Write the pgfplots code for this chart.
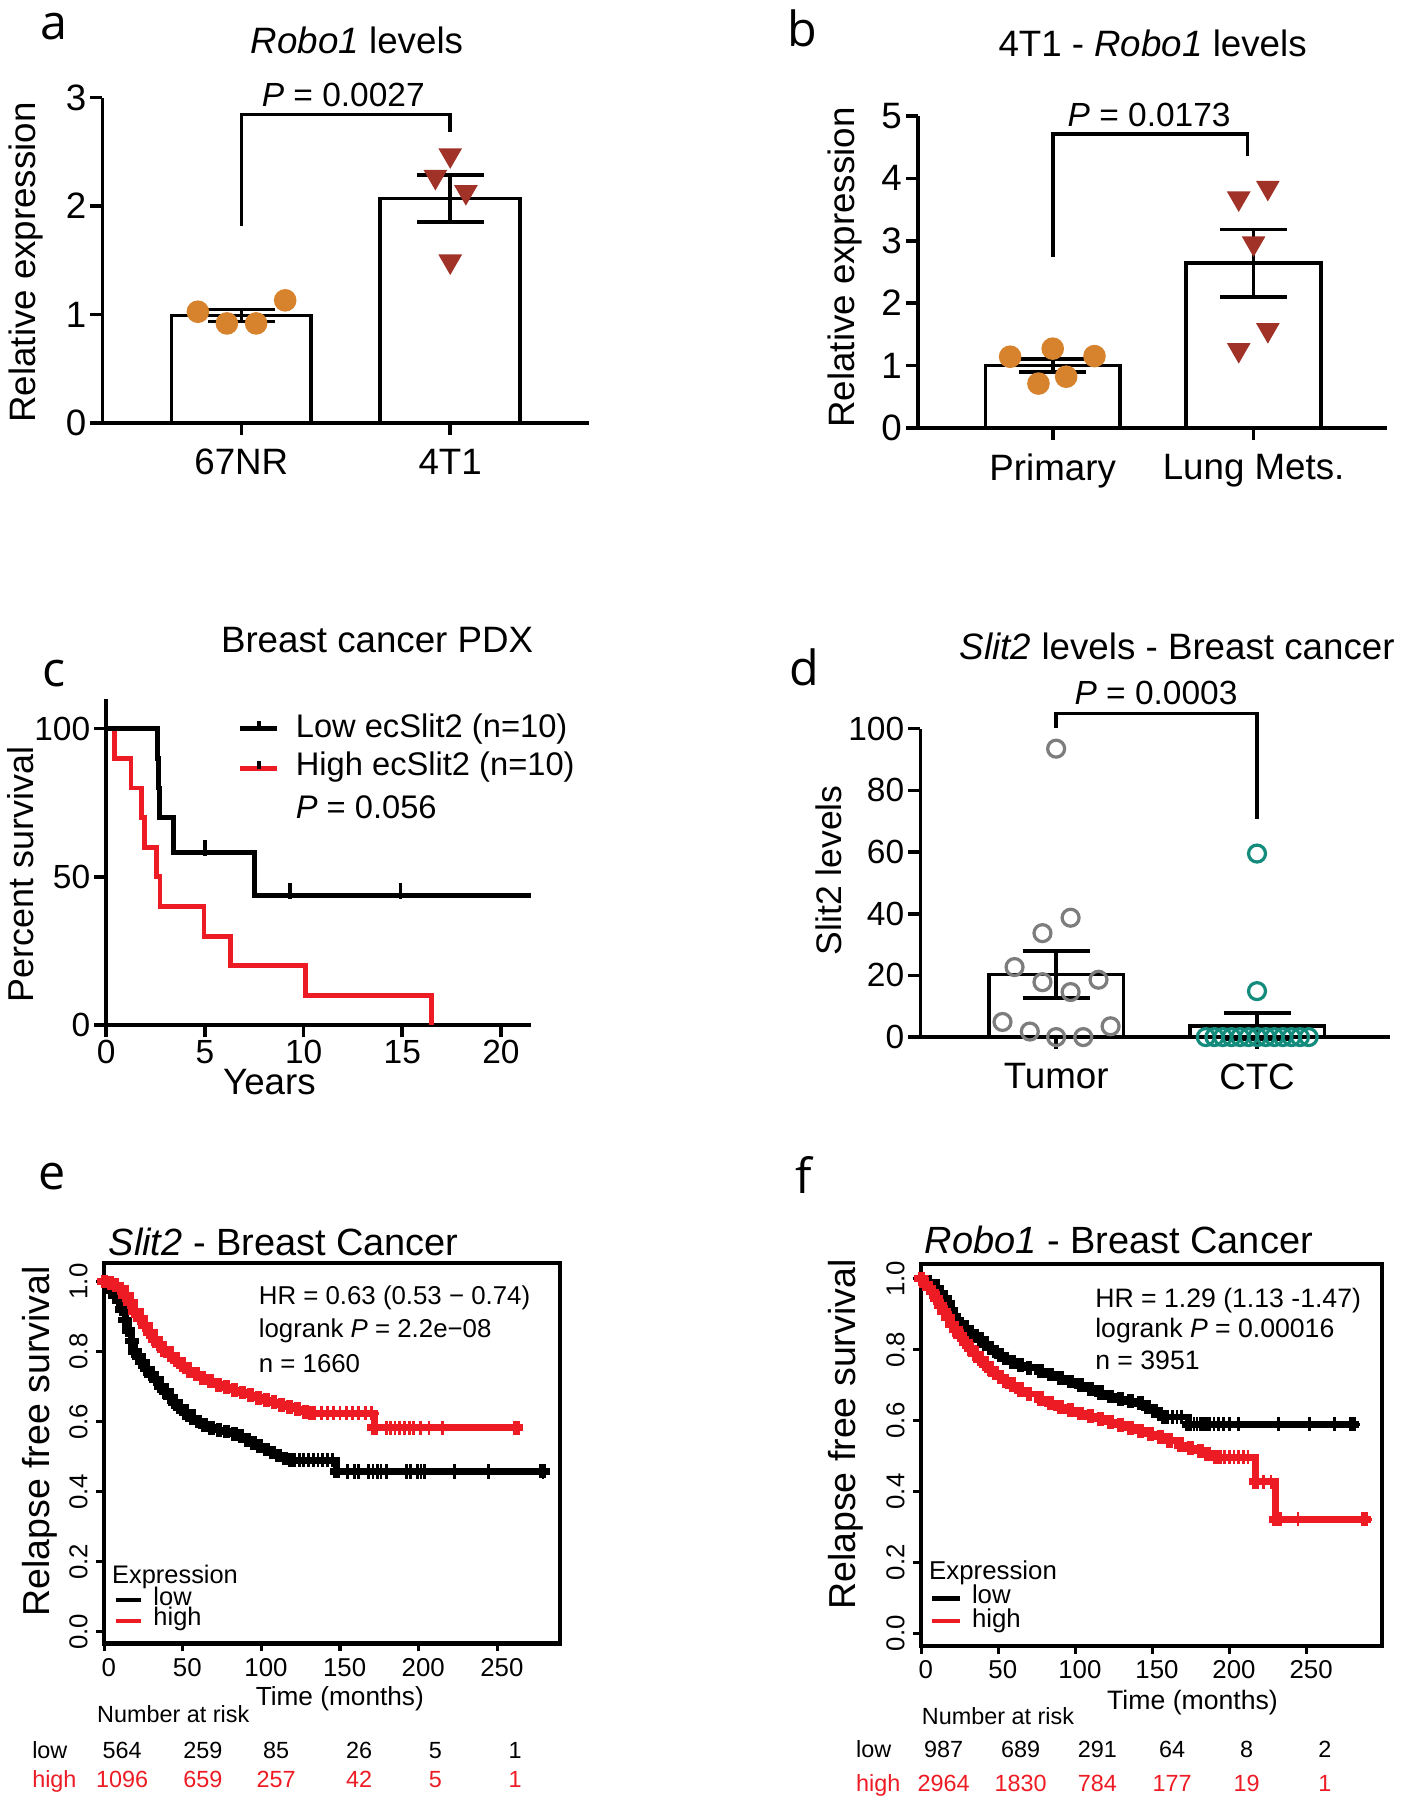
\documentclass[border=0pt]{standalone}
\usepackage{pgfplots}
\pgfplotsset{compat=1.18}
\usepackage{fontspec}
\setmainfont{Liberation Sans}
\newfontfamily\lblfont{Open Sans}
\definecolor{orangept}{RGB}{215,130,45}
\definecolor{redtri}{RGB}{160,50,40}
\definecolor{kmred}{RGB}{237,28,36}
\definecolor{tealc}{RGB}{20,140,125}
\definecolor{grayc}{RGB}{125,125,125}
\newcommand{\fs}[1]{\fontsize{#1}{#1}\selectfont}
\pgfplotsset{
  gp/.style={scale only axis, axis lines=left, axis line style={-, line width=0.9pt},
    tick align=outside, major tick length=3pt, tick style={line width=0.9pt, black},
    /pgf/number format/assume math mode=true, clip=false,
    yticklabel style={inner sep=0.8pt}},
  km/.style={scale only axis, axis line style={line width=1.1pt}, tick align=outside,
    tick pos=left, major tick length=1.9pt, tick style={line width=0.8pt, black},
    /pgf/number format/assume math mode=true, tick label style={font=\fs{6.4}},
    xtick={0,50,100,150,200,250}, ytick={0,0.2,0.4,0.6,0.8,1},
    yticklabel style={rotate=90, anchor=south, inner sep=2pt, /pgf/number format/.cd, fixed, fixed zerofill, precision=1},
    xticklabel style={inner sep=1.5pt, xshift=0.4mm}},
  barst/.style={ybar, bar width=0.67, fill=white, draw=black, line width=0.9pt,
    error bars/.cd, y dir=both, y explicit,
    error bar style={line width=0.9pt, draw=black},
    error mark options={rotate=90, mark size=8.3pt, line width=0.9pt, draw=black}},
}
\begin{document}
\begin{tikzpicture}
\begin{scope}[x=0.1mm,y=-0.1mm]
\coordinate (Ao) at (89.2,368.3);
\coordinate (Bo) at (799.6,372.7);
\coordinate (Co) at (92.6,893);
\coordinate (Do) at (801.7,903.4);
\coordinate (Eo) at (90.7,1431.8);
\coordinate (Fo) at (802.4,1434);
\end{scope}

% ---------------- panel a
\begin{axis}[gp, at={(Ao)}, anchor=south west, width=42.4mm, height=28.32mm,
  xmin=-0.665, xmax=1.665, ymin=0, ymax=3, xtick={0,1}, xticklabels={67NR,4T1},
  ytick={0,1,2,3}, tick label style={font=\fs{9.1}}]
\addplot[barst] coordinates {(0,0.99) +- (0,0.055) (1,2.07) +- (0,0.215)};
\addplot[only marks, mark=*, mark size=2.6pt, mark options={fill=orangept, draw=orangept}]
  coordinates {(-0.208,1.025) (-0.069,0.917) (0.071,0.917) (0.21,1.13)};
\addplot[only marks, mark=triangle*, mark size=3pt, mark options={rotate=180, fill=redtri, draw=redtri}]
  coordinates {(1,2.47) (0.929,2.27) (1.075,2.13) (1,1.49)};
\addplot[black, line width=0.9pt] coordinates {(0,1.82) (0,2.846) (1,2.846) (1,2.685)};
\end{axis}

% ---------------- panel b
\begin{axis}[gp, at={(Bo)}, anchor=south west, width=40.84mm, height=27.17mm,
  xmin=-0.671, xmax=1.663, ymin=0, ymax=5, xtick={0,1}, xticklabels={Primary,Lung Mets.},
  ytick={0,1,2,3,4,5}, tick label style={font=\fs{9.1}}]
\addplot[barst] coordinates {(0,1.0) +- (0,0.105) (1,2.64) +- (0,0.54)};
\addplot[only marks, mark=*, mark size=2.6pt, mark options={fill=orangept, draw=orangept}]
  coordinates {(-0.212,1.14) (-0.071,0.71) (0,1.27) (0.067,0.82) (0.208,1.15)};
\addplot[only marks, mark=triangle*, mark size=3pt, mark options={rotate=180, fill=redtri, draw=redtri}]
  coordinates {(0.926,3.68) (1.071,3.85) (1,2.96) (1.071,1.57) (0.926,1.25)};
\addplot[black, line width=0.9pt] coordinates {(0,2.74) (0,4.71) (0.97,4.71) (0.97,4.36)};
\end{axis}

% ---------------- panel c
\begin{axis}[gp, at={(Co)}, anchor=south west, width=36.99mm, height=28.41mm,
  xmin=0, xmax=21.52, ymin=0, ymax=110, xtick={0,5,10,15,20}, ytick={0,50,100},
  tick label style={font=\fs{8.3}}, xticklabel style={inner sep=0.6pt}]
\addplot[const plot, kmred, line width=1.2pt] coordinates {(0,100) (0.4,90) (1.25,80) (1.8,70) (1.95,60) (2.55,50) (2.72,40) (4.95,30) (6.3,20) (10.1,10) (16.5,0)};
\addplot[const plot, black, line width=1.2pt] coordinates {(0,100) (2.6,90) (2.65,80) (2.7,70) (3.4,58.33) (7.5,43.75) (21.5,43.75)};
\addplot[only marks, mark=|, mark size=2pt, black, mark options={line width=0.9pt}] coordinates {(5,59.8) (9.3,45.2) (14.9,45.2)};
\end{axis}

% ---------------- panel d
\begin{axis}[gp, at={(Do)}, anchor=south west, width=40.93mm, height=26.87mm,
  xmin=-0.676, xmax=1.663, ymin=0, ymax=100, xtick={0,1}, xticklabels={Tumor,CTC},
  ytick={0,20,40,60,80,100}, yticklabel style={font=\fs{8.3}}, xticklabel style={font=\fs{9.1}}]
\addplot[barst] coordinates {(0,20.3) +- (0,7.6) (1,3.6) +- (0,4.3)};
\addplot[only marks, mark=o, mark size=2.1pt, grayc, mark options={line width=0.8pt}]
  coordinates {(0,93.5) (0.072,38.7) (-0.068,33.7) (-0.207,22.7) (-0.068,17.8) (0.211,18.6) (0.072,14.6) (-0.267,4.9) (0.271,3.5) (-0.131,1.8) (0,0) (0.135,0)};
\addplot[only marks, mark=o, mark size=2.1pt, tealc, mark options={line width=0.8pt}]
  coordinates {(1,59.5) (1,14.9) (0.745,0) (0.788,0) (0.830,0) (0.873,0) (0.916,0) (0.958,0) (1.001,0) (1.044,0) (1.086,0) (1.129,0) (1.172,0) (1.214,0) (1.257,0)};
\addplot[black, line width=0.9pt] coordinates {(0,100.2) (0,104.9) (1,104.9) (1,70.6)};
\end{axis}

% ---------------- panel e
\begin{axis}[km, at={(Eo)}, anchor=south west, width=39.73mm, height=33.14mm,
  xmin=0, xmax=290, ymin=-0.034, ymax=1.052]
\addplot[const plot, black, line width=1.7pt, mark=+, mark size=1.7pt] coordinates {(0,1.0) (3,0.99) (5,0.975) (7,0.96) (9.5,0.945) (11.5,0.92) (13.5,0.89) (15.5,0.86) (17.5,0.83) (19.5,0.80) (22,0.785) (24,0.77) (27,0.75) (30,0.735) (33,0.72) (36,0.70) (39,0.685) (42,0.67) (45,0.655) (48,0.64) (52,0.625) (56,0.61) (60,0.60) (64,0.59) (68.5,0.582) (73,0.576) (78,0.572) (83,0.565) (87,0.558) (91,0.548) (95,0.538) (99,0.53) (103,0.52) (107,0.512) (111,0.503) (115,0.495) (119,0.49) (148,0.458) (279,0.458)};
\addplot[only marks, mark=+, mark size=1.8pt, black, mark options={line width=0.7pt}] coordinates {(121,0.49) (124,0.49) (127,0.49) (130,0.49) (133,0.49) (136,0.49) (139,0.49) (142,0.49) (145,0.49) (155,0.458) (159.4,0.458) (162,0.458) (168,0.458) (171,0.458) (173.7,0.458) (176,0.458) (179.4,0.458) (192.3,0.458) (195,0.458) (199.4,0.458) (201.5,0.458) (203.7,0.458) (223,0.458) (244.6,0.458) (279,0.458)};
\addplot[const plot, kmred, line width=1.7pt, mark=+, mark size=1.7pt] coordinates {(0,1.0) (4,0.995) (7.5,0.99) (10.5,0.98) (13.5,0.96) (16.5,0.94) (19.5,0.915) (23,0.895) (26,0.875) (29,0.855) (32,0.835) (35,0.82) (38,0.805) (42,0.79) (46,0.775) (50,0.76) (54,0.745) (58.5,0.735) (62.5,0.725) (67.5,0.715) (72.5,0.705) (78,0.698) (83,0.69) (88,0.683) (93,0.676) (98,0.668) (103,0.661) (108,0.655) (113,0.648) (118,0.642) (123,0.636) (128,0.628) (132,0.624) (171.7,0.582) (262,0.582)};
\addplot[only marks, mark=+, mark size=1.8pt, kmred, mark options={line width=0.7pt}] coordinates {(134,0.624) (138,0.624) (142,0.624) (146,0.624) (150,0.624) (154,0.624) (158,0.624) (162,0.624) (166,0.624) (170,0.624) (179.4,0.582) (182,0.582) (185,0.582) (188,0.582) (191,0.582) (194.3,0.582) (196.6,0.582) (201,0.582) (206.6,0.582) (215,0.582) (261.7,0.582)};
\end{axis}

% ---------------- panel f
\begin{axis}[km, at={(Fo)}, anchor=south west, width=40.12mm, height=33.3mm,
  xmin=0, xmax=298.8, ymin=-0.0366, ymax=1.042]
\addplot[const plot, black, line width=1.7pt, mark=+, mark size=1.7pt] coordinates {(0,1.0) (5,0.99) (9.9,0.974) (12.5,0.96) (15,0.945) (17.7,0.93) (19.5,0.91) (21.5,0.895) (23.5,0.88) (25.4,0.873) (29,0.86) (32,0.85) (35,0.84) (38.4,0.829) (42,0.815) (45,0.805) (48,0.795) (51.4,0.784) (55,0.775) (59,0.766) (64.4,0.756) (70,0.749) (77.4,0.739) (84,0.73) (90.3,0.72) (97,0.71) (103.3,0.70) (110,0.69) (116.3,0.677) (123,0.668) (129.3,0.66) (136,0.655) (142.3,0.649) (147,0.638) (151.3,0.627) (155,0.618) (157.8,0.61) (173.4,0.59) (279.9,0.59)};
\addplot[only marks, mark=+, mark size=1.8pt, black, mark options={line width=0.7pt}] coordinates {(160,0.61) (163,0.61) (166,0.61) (169,0.61) (175,0.59) (177,0.59) (179,0.59) (181,0.59) (183,0.59) (185,0.59) (187,0.59) (190,0.59) (193,0.59) (196,0.59) (200,0.59) (206,0.59) (232,0.59) (251.8,0.59) (268,0.59) (279.9,0.59)};
\addplot[const plot, kmred, line width=1.7pt, mark=+, mark size=1.7pt] coordinates {(0,1.0) (3,0.985) (7.3,0.963) (10,0.945) (12.5,0.925) (15,0.907) (17.5,0.89) (20,0.872) (22.5,0.856) (25.4,0.84) (29,0.82) (32,0.803) (35,0.788) (38.4,0.773) (42,0.758) (45,0.745) (48,0.733) (51.4,0.723) (55,0.712) (59,0.70) (64.4,0.686) (70,0.675) (77.4,0.66) (84,0.648) (90.3,0.638) (97,0.629) (103.3,0.62) (110,0.612) (116.3,0.605) (123,0.596) (129.3,0.588) (136,0.58) (142.3,0.571) (149,0.562) (155.2,0.554) (161,0.543) (168.2,0.53) (175,0.522) (181.2,0.515) (186,0.506) (191.6,0.497) (217,0.427) (230,0.322) (287.6,0.322)};
\addplot[only marks, mark=+, mark size=1.8pt, kmred, mark options={line width=0.7pt}] coordinates {(194,0.497) (197,0.497) (200,0.497) (203,0.497) (206,0.497) (209,0.497) (212,0.497) (222,0.427) (227,0.427) (233,0.322) (244.5,0.322) (287.6,0.322)};
\end{axis}

\begin{scope}[x=0.1mm,y=-0.1mm, every node/.style={inner sep=0pt}]
% panel letters
\node[font=\lblfont\fs{12}, anchor=base] at (47,34) {a};
\node[font=\lblfont\fs{12}, anchor=base] at (699,40.7) {b};
\node[font=\lblfont\fs{12}, anchor=base] at (47,598.4) {c};
\node[font=\lblfont\fs{12}, anchor=base] at (700.6,597) {d};
\node[font=\lblfont\fs{12}, anchor=base] at (45,1036) {e};
\node[font=\lblfont\fs{12}, anchor=base] at (700,1040) {f};
% a
\node[font=\fs{9.1}, anchor=base] at (310.9,47) {\textit{Robo1} levels};
\node[font=\fs{8.3}, anchor=base] at (299,93) {\textit{P} = 0.0027};
\node[font=\fs{9.1}, anchor=base, rotate=90] at (31,228.6) {Relative expression};
% b
\node[font=\fs{9.1}, anchor=base] at (1004,48.8) {4T1 - \textit{Robo1} levels};
\node[font=\fs{8.3}, anchor=base] at (1001,110.4) {\textit{P} = 0.0173};
\node[font=\fs{9.1}, anchor=base, rotate=90] at (744.5,233) {Relative expression};
% c
\node[font=\fs{9.1}, anchor=base] at (328.5,568.8) {Breast cancer PDX};
\draw[black, line width=1.2pt] (209.4,634.7) -- (241.6,634.7);
\draw[black, line width=0.9pt] (225.5,634.7) -- (225.5,628);
\draw[kmred, line width=1.2pt] (209.4,669.6) -- (241.6,669.6);
\draw[black, line width=0.9pt] (225.5,669.6) -- (225.5,663);
\node[font=\fs{8.1}, anchor=base west] at (257,642) {Low ecSlit2 (n=10)};
\node[font=\fs{8.1}, anchor=base west] at (257,675.4) {High ecSlit2 (n=10)};
\node[font=\fs{8.1}, anchor=base west] at (257,713) {\textit{P} = 0.056};
\node[font=\fs{9.1}, anchor=base] at (234.7,953) {Years};
\node[font=\fs{8.9}, anchor=base, rotate=90] at (29,761.8) {Percent survival};
% d
\node[font=\fs{9.1}, anchor=base] at (1025.5,574.6) {\textit{Slit2} levels - Breast cancer};
\node[font=\fs{8.3}, anchor=base] at (1007,613.5) {\textit{P} = 0.0003};
\node[font=\fs{8.8}, anchor=base, rotate=90] at (732.7,758) {Slit2 levels};
% e
\node[font=\fs{9.4}, anchor=base west] at (94,1093.4) {\textit{Slit2} - Breast Cancer};
\node[font=\fs{6.4}, anchor=base west] at (224.8,1136.3) {HR = 0.63 (0.53 − 0.74)};
\node[font=\fs{6.4}, anchor=base west] at (224.8,1165) {logrank \textit{P} = 2.2e−08};
\node[font=\fs{6.4}, anchor=base west] at (224.8,1196) {n = 1660};
\node[font=\fs{6.3}, anchor=base west] at (97,1379.5) {Expression};
\draw[black, line width=0.9pt] (101,1393.6) -- (123,1393.6);
\node[font=\fs{6.3}, anchor=base west] at (133,1398.5) {low};
\draw[kmred, line width=0.9pt] (101,1412) -- (123,1412);
\node[font=\fs{6.3}, anchor=base west] at (133,1415.8) {high};
\node[font=\fs{6.5}, anchor=base] at (296,1485.7) {Time (months)};
\node[font=\fs{9.3}, anchor=base, rotate=90] at (43,1255.6) {Relapse free survival};
\node[font=\fs{5.8}, anchor=base west] at (84,1500.7) {Number at risk};
\node[font=\fs{5.8}, anchor=base west] at (27.4,1531.7) {low};
\node[font=\fs{5.8}, anchor=base west, text=kmred] at (27.4,1557) {high};
\foreach \xx/\lo/\hi in {106.3/564/1096, 176.7/259/659, 240.5/85/257, 312.9/26/42, 379.2/5/5, 448.8/1/1} {
  \node[font=\fs{5.8}, anchor=base] at (\xx,1531.7) {\lo};
  \node[font=\fs{5.8}, anchor=base, text=kmred] at (\xx,1557) {\hi};
}
% f
\node[font=\fs{9.4}, anchor=base west] at (805,1092.3) {\textit{Robo1} - Breast Cancer};
\node[font=\fs{6.6}, anchor=base west] at (953.4,1139) {HR = 1.29 (1.13 -1.47)};
\node[font=\fs{6.6}, anchor=base west] at (953.4,1165) {logrank \textit{P} = 0.00016};
\node[font=\fs{6.6}, anchor=base west] at (953.4,1192.7) {n = 3951};
\node[font=\fs{6.4}, anchor=base west] at (808.7,1376) {Expression};
\draw[black, line width=1.2pt] (812,1392.6) -- (836,1392.6);
\node[font=\fs{6.4}, anchor=base west] at (846,1396.8) {low};
\draw[kmred, line width=1.2pt] (812,1412) -- (836,1412);
\node[font=\fs{6.4}, anchor=base west] at (846,1417.5) {high};
\node[font=\fs{6.6}, anchor=base] at (1038.8,1489) {Time (months)};
\node[font=\fs{9.3}, anchor=base, rotate=90] at (745,1249.7) {Relapse free survival};
\node[font=\fs{5.8}, anchor=base west] at (802.4,1502) {Number at risk};
\node[font=\fs{5.8}, anchor=base west] at (745,1530.7) {low};
\node[font=\fs{5.8}, anchor=base west, text=kmred] at (745,1560.4) {high};
\foreach \xx/\lo/\hi in {822/987/2964, 889/689/1830, 956/291/784, 1021/64/177, 1086/8/19, 1154/2/1} {
  \node[font=\fs{5.8}, anchor=base] at (\xx,1530.7) {\lo};
  \node[font=\fs{5.8}, anchor=base, text=kmred] at (\xx,1560.4) {\hi};
}
\end{scope}
\pgfresetboundingbox
\path[use as bounding box] (0,0) rectangle (122mm,-156.8mm);
\end{tikzpicture}
\end{document}
